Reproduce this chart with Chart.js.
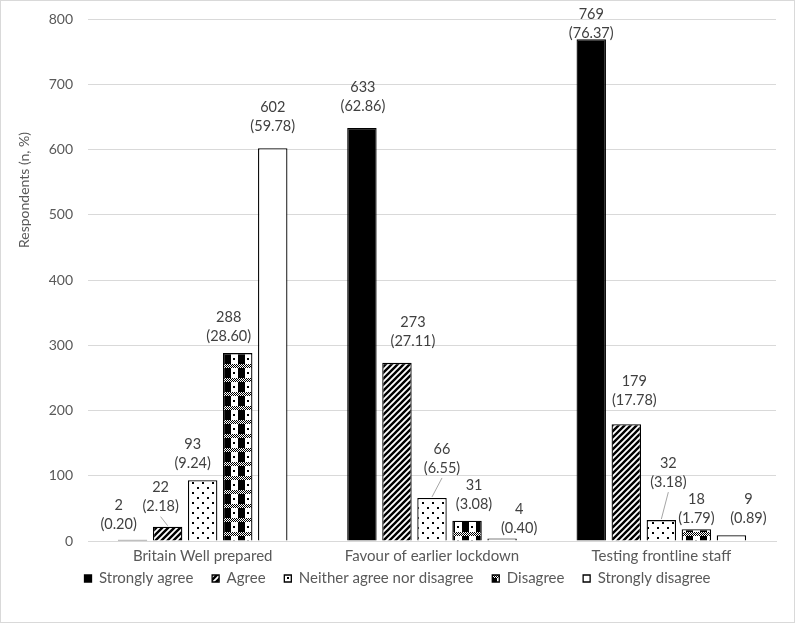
<!DOCTYPE html>
<html>
<head>
<meta charset="utf-8">
<script src="https://cdn.jsdelivr.net/npm/chart.js@4.4.1/dist/chart.umd.min.js"></script>
<style>
  html, body { margin: 0; padding: 0; background: #fff; }
  #wrap { position: relative; width: 795px; height: 623px; }
</style>
</head>
<body>
<div id="wrap"><canvas id="chart"></canvas></div>
<script>
// categories and series
var categories = ["Britain Well prepared", "Favour of earlier lockdown", "Testing frontline staff"];
var seriesNames = ["Strongly agree", "Agree", "Neither agree nor disagree", "Disagree", "Strongly disagree"];

// respondents (n)
var stronglyAgree = [2, 633, 769];
var agree = [22, 273, 179];
var neither = [93, 66, 32];
var disagree = [288, 31, 18];
var stronglyDisagree = [602, 4, 9];

// respondents (%)
var stronglyAgreePct = [0.20, 62.86, 76.37];
var agreePct = [2.18, 27.11, 17.78];
var neitherPct = [9.24, 6.55, 3.18];
var disagreePct = [28.60, 3.08, 1.79];
var stronglyDisagreePct = [59.78, 0.40, 0.89];

var yTicks = [0, 100, 200, 300, 400, 500, 600, 700, 800];

var counts = [stronglyAgree, agree, neither, disagree, stronglyDisagree];
var pcts = [stronglyAgreePct, agreePct, neitherPct, disagreePct, stronglyDisagreePct];

// label nudges (px) so labels sit like the original, and which get leader lines
var labelDx = [[-14, 1, 0], [-7, 16, 8], [-10, 10, 7], [-9, 7, 0], [0, 17, 17]];
var labelDy = [[2, -5, 11], [-3, -5, -7], [0, -13, -21], [0, 1, 6], [-5, 7, 0]];
var leader = [[false, false, false], [true, false, false], [false, true, true], [false, false, false], [false, false, false]];

var FONT = "Lato, 'Open Sans', sans-serif";

var ctx = document.getElementById("chart").getContext("2d");

function makePattern(w, h, draw) {
    var c = document.createElement("canvas");
    c.width = w; c.height = h;
    var g = c.getContext("2d");
    g.fillStyle = "#fff";
    g.fillRect(0, 0, w, h);
    g.fillStyle = "#000";
    g.strokeStyle = "#000";
    draw(g);
    return ctx.createPattern(c, "repeat");
}

// diagonal stripes
var stripes = makePattern(6, 6, function (g) {
    g.lineWidth = 2.4;
    g.beginPath();
    g.moveTo(-3, 3); g.lineTo(3, -3);
    g.moveTo(0, 6); g.lineTo(6, 0);
    g.moveTo(3, 9); g.lineTo(9, 3);
    g.stroke();
});

// sparse dots
var dots = makePattern(10, 10, function (g) {
    g.fillRect(2, 2, 2, 2);
    g.fillRect(7, 7, 2, 2);
});

// checker blocks
var checks = makePattern(14, 14, function (g) {
    for (var x = 0; x < 14; x++) {
        for (var y = 0; y < 4; y++) {
            if ((x + y) % 2 === 0) g.fillRect(x, y, 1, 1);
        }
    }
    g.fillRect(0, 4, 7, 10);
    g.fillStyle = "#fff";
    g.fillRect(7, 4, 7, 10);
    g.fillStyle = "#000";
    g.fillRect(9, 8, 2, 2);
});

var fills = ["#000000", stripes, dots, checks, "#ffffff"];

var datasets = seriesNames.map(function (name, i) {
    return {
        label: name,
        data: counts[i],
        backgroundColor: fills[i],
        borderColor: "#000000",
        borderWidth: 1.3,
        categoryPercentage: 0.764,
        barPercentage: 0.84
    };
});

var frameAndLabels = {
    id: "frameAndLabels",
    beforeDraw: function (chart) {
        var c = chart.ctx;
        c.save();
        c.fillStyle = "#fff";
        c.fillRect(0, 0, chart.width, chart.height);
        c.strokeStyle = "#d9d9d9";
        c.lineWidth = 1;
        c.strokeRect(0.5, 0.5, chart.width - 1, chart.height - 1);
        c.restore();
    },
    afterDatasetsDraw: function (chart) {
        var c = chart.ctx;
        c.save();
        c.font = "14.5px " + FONT;
        c.fillStyle = "#404040";
        c.textAlign = "center";
        c.textBaseline = "middle";
        chart.data.datasets.forEach(function (ds, i) {
            var meta = chart.getDatasetMeta(i);
            meta.data.forEach(function (bar, j) {
                var x = bar.x + labelDx[i][j];
                var py = bar.y - 17 + labelDy[i][j];
                c.fillText(String(counts[i][j]), x, py - 19);
                c.fillText("(" + pcts[i][j].toFixed(2) + ")", x, py);
                if (leader[i][j]) {
                    c.strokeStyle = "#a6a6a6";
                    c.lineWidth = 1;
                    c.beginPath();
                    c.moveTo(x, py + 10);
                    c.lineTo(bar.x, bar.y - 1);
                    c.stroke();
                }
            });
        });
        // y axis title
        c.translate(24, 190);
        c.rotate(-Math.PI / 2);
        c.font = "14px " + FONT;
        c.fillStyle = "#595959";
        c.fillText("Respondents (n, %)", 0, 0);
        c.restore();
    }
};

new Chart(ctx, {
    type: "bar",
    data: {
        labels: categories,
        datasets: datasets
    },
    options: {
        responsive: true,
        maintainAspectRatio: false,
        animation: false,
        layout: {
            padding: { left: 19, right: 19, top: 19, bottom: 27 }
        },
        plugins: {
            legend: {
                position: "bottom",
                labels: {
                    boxWidth: 7,
                    boxHeight: 7,
                    padding: 0,
                    color: "#595959",
                    font: { size: 15, family: FONT },
                    generateLabels: function (chart) {
                        var items = Chart.defaults.plugins.legend.labels.generateLabels(chart);
                        items.forEach(function (it, k) {
                            if (k < items.length - 1) it.text = it.text + "\u2003\u2002";
                        });
                        return items;
                    }
                }
            },
            tooltip: { enabled: false }
        },
        scales: {
            y: {
                min: 0,
                max: 800,
                afterBuildTicks: function (scale) {
                    scale.ticks = yTicks.map(function (v) { return { value: v }; });
                },
                afterFit: function (scale) {
                    scale.width = 69;
                    scale.paddingTop = 0;
                    scale.paddingBottom = 0;
                },
                border: { display: false },
                grid: { color: "#d9d9d9", drawTicks: false },
                ticks: {
                    padding: 15,
                    color: "#595959",
                    font: { size: 14, family: FONT }
                }
            },
            x: {
                border: { color: "#d9d9d9" },
                grid: { display: false, drawTicks: false },
                ticks: {
                    padding: 6,
                    color: "#595959",
                    font: { size: 15, family: FONT }
                }
            }
        }
    },
    plugins: [frameAndLabels]
});
</script>
</body>
</html>
